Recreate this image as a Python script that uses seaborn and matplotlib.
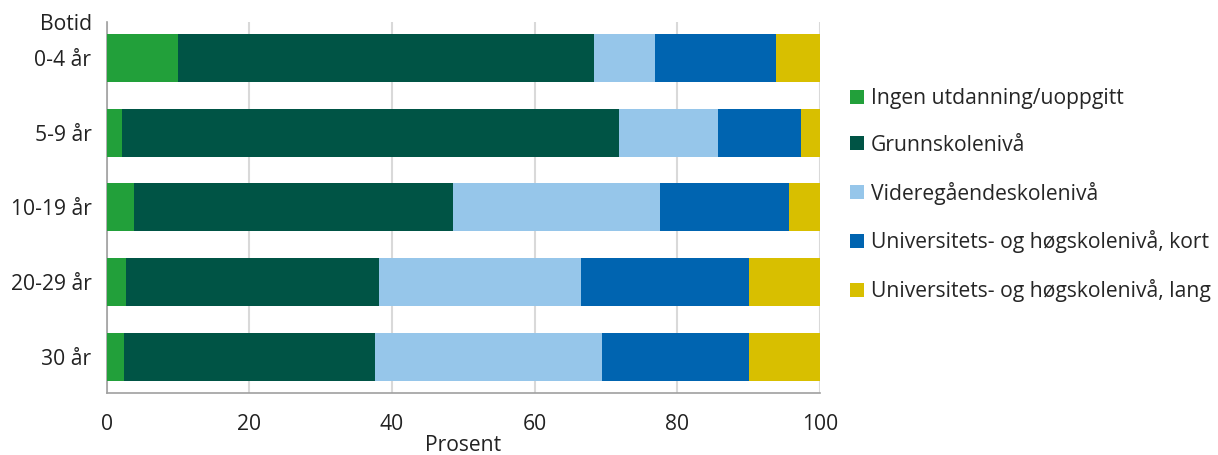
import matplotlib
matplotlib.use("Agg")
import matplotlib.pyplot as plt
import seaborn as sns
import pandas as pd
import numpy as np
from matplotlib.patches import Patch

categories = ["0-4 år", "5-9 år", "10-19 år", "20-29 år", "30 år"]
series_names = [
    "Ingen utdanning/uoppgitt",
    "Grunnskolenivå",
    "Videregåendeskolenivå",
    "Universitets- og høgskolenivå, kort",
    "Universitets- og høgskolenivå, lang",
]
ingen = [10.0, 2.1, 3.8, 2.7, 2.4]
grunnskole = [58.3, 69.7, 44.7, 35.5, 35.2]
vgs = [8.6, 13.9, 29.0, 28.3, 31.8]
uni_kort = [16.9, 11.7, 18.2, 23.5, 20.6]
uni_lang = [6.2, 2.6, 4.3, 10.0, 10.0]
colors = ["#22a03a", "#005445", "#96c6ea", "#0064b0", "#d8bf00"]
xticks = [0, 20, 40, 60, 80, 100]

sns.set_theme(style="white")
plt.rcParams["font.family"] = ["Open Sans", "DejaVu Sans"]
FS = 15.2

values = np.array([ingen, grunnskole, vgs, uni_kort, uni_lang])
cum = np.cumsum(values, axis=0)

fig = plt.figure(figsize=(12.18, 4.55), dpi=100)
ax = fig.add_axes([106.7 / 1218, 1 - 392.7 / 455, (820 - 106.7) / 1218, (392.7 - 22) / 455])

for i in range(len(series_names) - 1, -1, -1):
    df = pd.DataFrame({"cat": categories, "val": cum[i]})
    sns.barplot(data=df, x="val", y="cat", orient="h", color=colors[i],
                width=0.64, ax=ax, saturation=1, linewidth=0, zorder=3)

ax.set_xlim(0, 100)
ax.set_ylim(4.48, -0.48)
ax.set_xticks(xticks)
ax.set_xticklabels([str(t) for t in xticks], fontsize=FS, color="#222222")
ax.tick_params(axis="x", length=0, pad=15)
ax.tick_params(axis="y", length=0, pad=11, labelsize=FS, labelcolor="#222222")
ax.grid(axis="x", color="#d9d9d9", linewidth=1.5, zorder=0)
ax.grid(axis="y", visible=False)
ax.set_axisbelow(True)
ax.set_xlabel("Prosent", fontsize=FS, color="#222222", labelpad=0.5)
ax.set_ylabel("")
for s in ["top", "right"]:
    ax.spines[s].set_visible(False)
for s in ["left", "bottom"]:
    ax.spines[s].set_color("#a0a0a0")
    ax.spines[s].set_linewidth(1.2)

fig.text(92 / 1218, 1 - 24 / 455, "Botid", ha="right", va="center", fontsize=FS, color="#222222")

handles = [Patch(facecolor=c, edgecolor="none") for c in colors]
fig.legend(handles, series_names, loc="upper left", bbox_to_anchor=(850 / 1218, 1 - 88 / 455),
           frameon=False, fontsize=FS, handlelength=0.65, handleheight=0.65,
           handletextpad=0.35, labelspacing=1.22, borderaxespad=0, borderpad=0)

fig.savefig("out.png", dpi=100)
